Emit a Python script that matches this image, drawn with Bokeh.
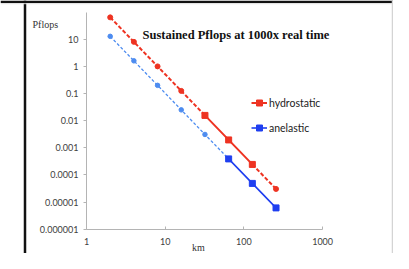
from bokeh.plotting import figure
from bokeh.models import FixedTicker, Label, Legend, LegendItem, Range1d, Span
from bokeh.embed import file_html
from bokeh.resources import INLINE

# ---- data ----
km = [2, 4, 8, 16, 32, 64, 128, 256]
hydrostatic = [64, 8, 1, 0.125, 0.0156, 0.00195, 0.000244, 0.0000305]
anelastic = [12.8, 1.6, 0.2, 0.025, 0.0031, 0.00039, 0.0000488, 0.0000061]

x_ticks = [1, 10, 100, 1000]
x_tick_labels = ["1", "10", "100", "1000"]
y_ticks = [1e-6, 1e-5, 1e-4, 1e-3, 1e-2, 1e-1, 1, 10]
y_tick_labels = ["0.000001", "0.00001", "0.0001", "0.001", "0.01", "0.1", "1", "10"]

title_text = "Sustained  Pflops at 1000x real time"
y_label = "Pflops"
x_label = "km"

# ---- style / layout ----
RED = "#ee3322"
BLUE = "#1f3ff0"
LBLUE = "#4d8cf0"
AXIS = "#b4b4b4"
TXT = "#404040"

W, H = 393, 253
X1_PX, DEC_X = 86.0, 78.7      # canvas x of km=1, pixels per decade
Y100_PX, DEC_Y = 11.6, 27.14   # canvas y of 100 Pflops, pixels per decade


def px_x(px):
    return 10 ** ((px - X1_PX) / DEC_X)


def px_y(py):
    return 10 ** (2 - (py - Y100_PX) / DEC_Y)


x_range = Range1d(px_x(0), px_x(W))
y_range = Range1d(px_y(H), px_y(0))

p = figure(width=W, height=H, x_axis_type="log", y_axis_type="log",
           x_range=x_range, y_range=y_range,
           output_backend="svg", toolbar_location=None, title=None,
           min_border_left=0, min_border_right=0, min_border_top=0,
           min_border_bottom=0)
p.outline_line_color = None
p.xgrid.visible = False
p.ygrid.visible = False
p.background_fill_color = "white"
p.border_fill_color = "white"

for ax in (p.xaxis[0], p.yaxis[0]):
    ax.axis_line_color = AXIS
    ax.major_tick_line_color = AXIS
    ax.minor_tick_line_color = None
    ax.major_label_text_font = "Lato"
    ax.major_label_text_font_size = "9px"
    ax.major_label_text_color = TXT

xa = p.xaxis[0]
xa.ticker = FixedTicker(ticks=x_ticks)
xa.major_label_overrides = {t: l for t, l in zip(x_ticks, x_tick_labels)}
xa.major_tick_in = 3
xa.major_tick_out = 0
xa.major_label_standoff = 9
xa.fixed_location = y_ticks[0]
xa.bounds = (x_ticks[0], x_ticks[-1])

ya = p.yaxis[0]
ya.ticker = FixedTicker(ticks=y_ticks)
ya.major_label_overrides = {t: l for t, l in zip(y_ticks, y_tick_labels)}
ya.major_tick_in = 0
ya.major_tick_out = 3
ya.major_label_standoff = 5
ya.fixed_location = x_ticks[0]
ya.bounds = (y_ticks[0], 100)

# outer frame of the picture (decoration, placed in pixels)
p.add_layout(Span(location=px_x(24.5), dimension="height", line_color="#111111", line_width=2.5))
p.add_layout(Span(location=px_y(1.2), dimension="width", line_color="#111111", line_width=2.5))
p.add_layout(Span(location=px_y(3.2), dimension="width", line_color="#dddddd", line_width=1))
p.add_layout(Span(location=px_x(W - 1), dimension="height", line_color="#d4d4d4", line_width=1.5))


def sub(a, idx):
    return [a[i] for i in idx]


# hydrostatic: dashed 2-32, solid 32-128, dashed 128-256
h_d1 = list(range(0, 5))
h_s = list(range(4, 7))
h_d2 = list(range(6, 8))
h_circ = [0, 1, 2, 3, 7]
h_sq = [4, 5, 6]

p.line(sub(km, h_d1), sub(hydrostatic, h_d1), line_color=RED, line_width=2, line_dash="4 2")
r_hs = p.line(sub(km, h_s), sub(hydrostatic, h_s), line_color=RED, line_width=2)
p.line(sub(km, h_d2), sub(hydrostatic, h_d2), line_color=RED, line_width=2, line_dash="4 2")
p.scatter(sub(km, h_circ), sub(hydrostatic, h_circ), marker="circle", size=5,
          fill_color=RED, line_color=RED)
r_hm = p.scatter(sub(km, h_sq), sub(hydrostatic, h_sq), marker="square", size=6,
                 fill_color=RED, line_color=RED)

# anelastic: light dashed 2-64, solid 64-256
a_d = list(range(0, 6))
a_s = list(range(5, 8))
a_circ = [0, 1, 2, 3, 4]
a_sq = [5, 6, 7]

p.line(sub(km, a_d), sub(anelastic, a_d), line_color=LBLUE, line_width=1.3, line_dash="3 2")
r_as = p.line(sub(km, a_s), sub(anelastic, a_s), line_color=BLUE, line_width=1.6)
p.scatter(sub(km, a_circ), sub(anelastic, a_circ), marker="circle", size=4.5,
          fill_color=LBLUE, line_color=LBLUE)
r_am = p.scatter(sub(km, a_sq), sub(anelastic, a_sq), marker="square", size=6,
                 fill_color=BLUE, line_color=BLUE)

legend = Legend(items=[LegendItem(label="hydrostatic", renderers=[r_hs, r_hm]),
                       LegendItem(label="anelastic", renderers=[r_as, r_am])],
                location=(251, 118), orientation="vertical",
                border_line_color=None, background_fill_alpha=0,
                padding=0, margin=0, spacing=10,
                glyph_width=16, glyph_height=15, label_height=15,
                label_standoff=2, label_text_font="Lato",
                label_text_font_size="10.5px", label_text_color="#222222")
p.add_layout(legend, "center")

p.add_layout(Label(x=142, y=34, x_units="canvas", y_units="canvas", text=title_text,
                   text_font="Liberation Serif", text_font_style="bold",
                   text_font_size="12.5px", text_color="#111111",
                   text_baseline="middle", text_align="left"))
p.add_layout(Label(x=32, y=24, x_units="canvas", y_units="canvas", text=y_label,
                   text_font="Liberation Serif", text_font_size="10px",
                   text_color="#333333", text_baseline="middle", text_align="left"))
p.add_layout(Label(x=198, y=247, x_units="canvas", y_units="canvas", text=x_label,
                   text_font="Liberation Serif", text_font_size="10px",
                   text_color="#333333", text_baseline="middle", text_align="center"))

open("out.html", "w").write(file_html(p, INLINE))
